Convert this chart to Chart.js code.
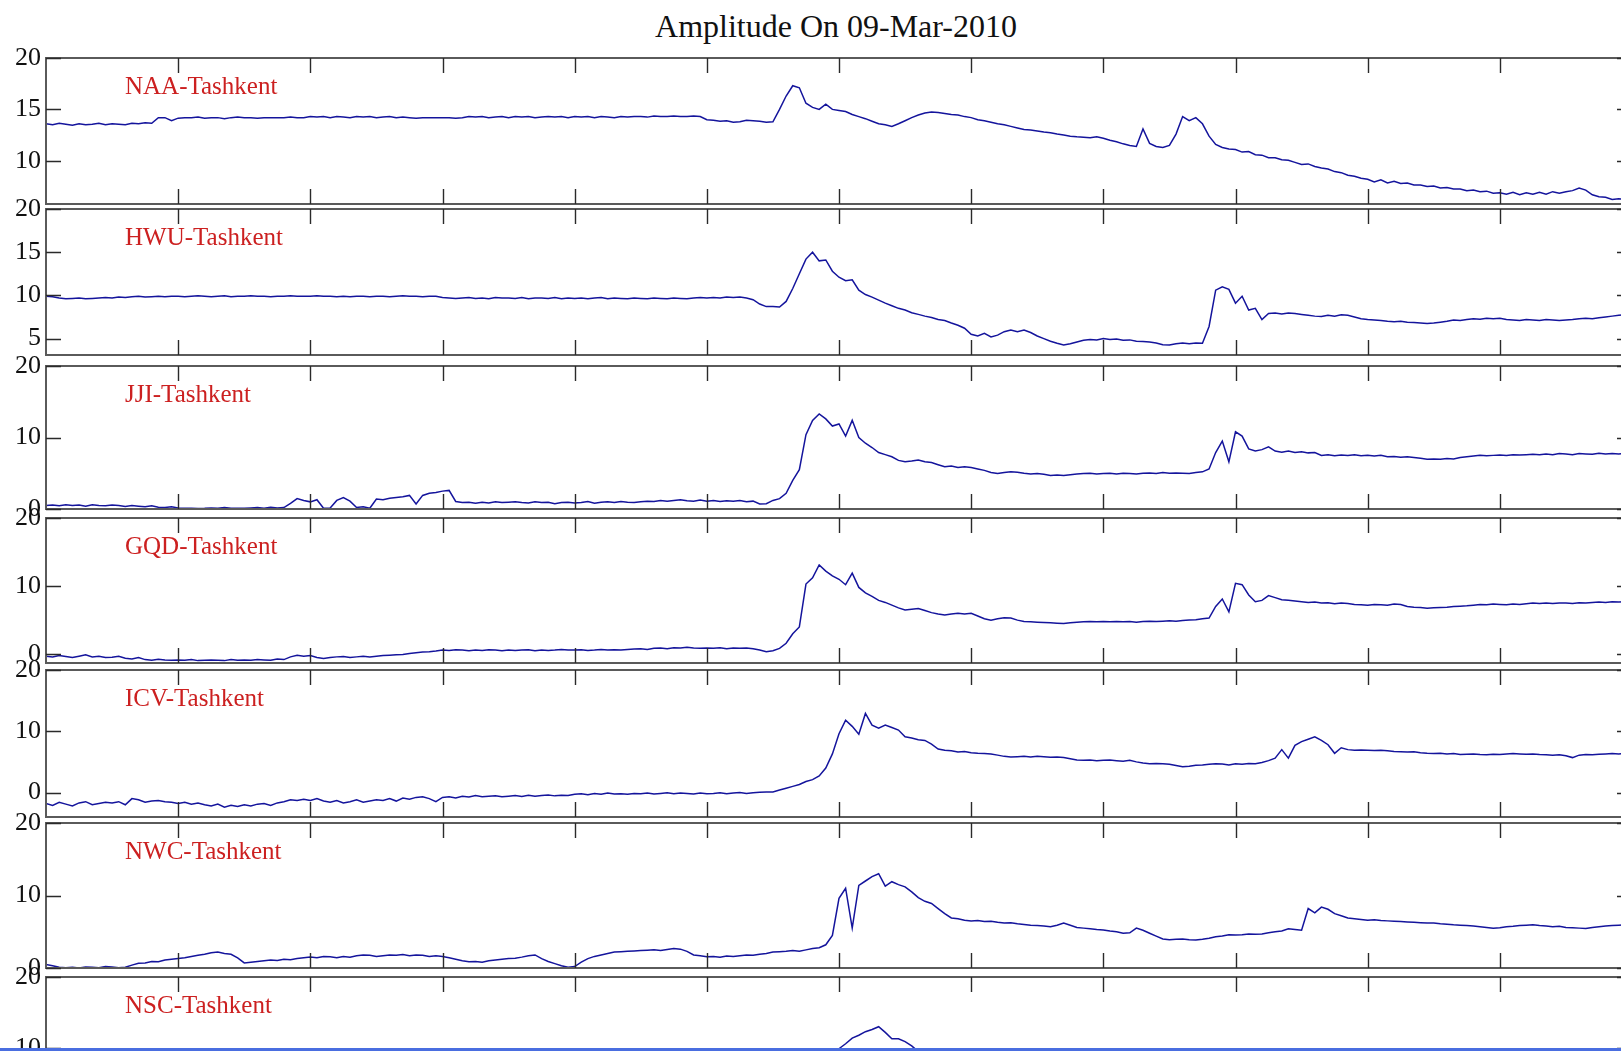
<!DOCTYPE html>
<html lang="en">
<head>
  <meta charset="UTF-8" />
  <title>Amplitude On 09-Mar-2010</title>
  <script src="https://cdn.jsdelivr.net/npm/chart.js"></script>
  <style>
    html, body { margin: 0; padding: 0; background: #fff; overflow: hidden; }
    body { width: 1621px; height: 1051px; position: relative; font-family: "Liberation Serif", serif; }
    #title { position: absolute; left: 0; width: 1672px; top: 8px; line-height: 36px; text-align: center; font-size: 32px; color: #111; }
    canvas { position: absolute; left: 0; }
    #edge { position: absolute; left: 0; top: 1048px; width: 1621px; height: 3px; background: #4a6ee0; }
  </style>
</head>
<body>
  <div id="title">Amplitude On 09-Mar-2010</div>
  <div id="panels"></div>
  <div id="edge"></div>

  <script>
    // time axis: hours UT, one sample every 0.1 h
    const STEP = 0.1;
    const xTickHours = [2, 4, 6, 8, 10, 12, 14, 16, 18, 20, 22];

    const stations = ["NAA-Tashkent", "HWU-Tashkent", "JJI-Tashkent", "GQD-Tashkent", "ICV-Tashkent", "NWC-Tashkent", "NSC-Tashkent"];

    // y tick labels per panel
    const naaTicks = [20, 15, 10];
    const hwuTicks = [20, 15, 10, 5];
    const jjiTicks = [20, 10, 0];
    const gqdTicks = [20, 10, 0];
    const icvTicks = [20, 10, 0];
    const nwcTicks = [20, 10, 0];
    const nscTicks = [20, 10, 0];

    // amplitude (dB), one row per hour
    const naaAmp = [
      13.6, 13.5, 13.65, 13.55, 13.45, 13.6, 13.5, 13.55, 13.65, 13.5,
      13.6, 13.55, 13.5, 13.65, 13.6, 13.7, 13.65, 14.2, 14.2, 13.9,
      14.15, 14.2, 14.2, 14.25, 14.15, 14.2, 14.2, 14.1, 14.2, 14.25,
      14.2, 14.2, 14.15, 14.2, 14.2, 14.2, 14.2, 14.25, 14.2, 14.2,
      14.3, 14.25, 14.3, 14.2, 14.3, 14.25, 14.2, 14.3, 14.25, 14.3,
      14.2, 14.25, 14.3, 14.2, 14.25, 14.2, 14.15, 14.2, 14.2, 14.2,
      14.2, 14.2, 14.15, 14.2, 14.3, 14.25, 14.3, 14.2, 14.25, 14.3,
      14.2, 14.3, 14.25, 14.3, 14.2, 14.25, 14.3, 14.25, 14.3, 14.2,
      14.3, 14.25, 14.3, 14.2, 14.3, 14.25, 14.2, 14.3, 14.25, 14.3,
      14.3, 14.25, 14.35, 14.3, 14.3, 14.35, 14.3, 14.3, 14.35, 14.3,
      14.0, 13.95, 13.85, 13.9, 13.75, 13.8, 13.95, 13.9, 13.85, 13.75,
      13.8, 15.0, 16.3, 17.3, 17.1, 15.6, 15.2, 15.0, 15.5, 15.0,
      14.9, 14.8, 14.5, 14.3, 14.1, 13.85, 13.6, 13.5, 13.35, 13.6,
      13.9, 14.2, 14.45, 14.65, 14.75, 14.7, 14.6, 14.5, 14.45, 14.3,
      14.2, 14.0, 13.9, 13.75, 13.6, 13.5, 13.35, 13.2, 13.05, 13.0,
      12.9, 12.8, 12.72, 12.6, 12.5, 12.4, 12.33, 12.3, 12.25, 12.35,
      12.2, 12.0, 11.85, 11.65, 11.5, 11.4, 13.1, 11.7, 11.4, 11.3,
      11.5, 12.6, 14.3, 13.9, 14.2, 13.6, 12.4, 11.6, 11.3, 11.15,
      11.1, 10.85, 10.9, 10.6, 10.55, 10.3, 10.3, 10.1, 10.05, 9.85,
      9.65, 9.7, 9.45, 9.3, 9.2, 8.95, 8.85, 8.6, 8.5, 8.3,
      8.2, 7.95, 8.15, 7.85, 8.0, 7.8, 7.85, 7.65, 7.65, 7.5,
      7.55, 7.35, 7.4, 7.25, 7.25, 7.1, 7.15, 7.0, 7.05, 6.85,
      6.9, 6.75, 6.95, 6.7, 6.9, 6.75, 6.95, 6.75, 7.0, 6.85,
      7.0, 7.1, 7.35, 7.15, 6.7, 6.5, 6.45, 6.25, 6.3, 6.25,
      6.2
    ];

    const hwuAmp = [
      9.9, 9.85, 9.7, 9.6, 9.65, 9.7, 9.6, 9.65, 9.7, 9.75,
      9.7, 9.8, 9.75, 9.85, 9.9, 9.8, 9.85, 9.9, 9.85, 9.9,
      9.9, 9.85, 9.9, 9.95, 9.9, 9.85, 9.9, 9.95, 9.85, 9.9,
      9.9, 9.95, 9.9, 9.9, 9.85, 9.9, 9.9, 9.95, 9.9, 9.9,
      9.9, 9.95, 9.9, 9.9, 9.85, 9.9, 9.85, 9.9, 9.9, 9.85,
      9.9, 9.9, 9.85, 9.9, 9.95, 9.9, 9.9, 9.85, 9.9, 9.9,
      9.75, 9.7, 9.65, 9.7, 9.75, 9.65, 9.7, 9.6, 9.75, 9.7,
      9.7, 9.65, 9.75, 9.6, 9.7, 9.7, 9.65, 9.75, 9.6, 9.7,
      9.65, 9.7, 9.6, 9.7, 9.75, 9.6, 9.7, 9.65, 9.6, 9.7,
      9.65, 9.6, 9.7, 9.65, 9.6, 9.7, 9.65, 9.6, 9.7, 9.75,
      9.7, 9.75, 9.7, 9.8, 9.75, 9.8, 9.7, 9.5, 9.0, 8.7,
      8.7, 8.65, 9.3, 10.8, 12.5, 14.2, 15.0, 14.0, 14.1, 12.8,
      12.1, 11.7, 11.8, 10.6, 10.1, 9.8, 9.45, 9.1, 8.8, 8.5,
      8.3, 8.0, 7.8, 7.6, 7.45, 7.2, 7.1, 6.8, 6.55, 6.2,
      5.5, 5.3, 5.6, 5.2, 5.4, 5.8, 6.0, 5.8, 6.0, 5.7,
      5.3, 5.0, 4.7, 4.45, 4.25, 4.4, 4.6, 4.8, 4.9, 4.85,
      5.0, 4.9, 4.95, 4.8, 4.85, 4.7, 4.65, 4.6, 4.5, 4.3,
      4.25, 4.4, 4.5, 4.4, 4.5, 4.45, 6.4, 10.6, 11.0, 10.7,
      9.1, 9.9, 8.3, 8.5, 7.2, 7.9, 7.95, 7.85, 7.95, 7.9,
      7.8, 7.7, 7.6, 7.55, 7.7, 7.6, 7.75, 7.7, 7.5, 7.3,
      7.2, 7.15, 7.1, 7.0, 6.95, 7.0, 6.9, 6.85, 6.8, 6.75,
      6.8, 6.9, 7.0, 7.15, 7.1, 7.2, 7.3, 7.25, 7.35, 7.3,
      7.35, 7.2, 7.15, 7.1, 7.2, 7.15, 7.1, 7.2, 7.15, 7.1,
      7.15, 7.2, 7.3, 7.35, 7.3, 7.4, 7.5, 7.6, 7.7, 7.75,
      7.8
    ];

    const jjiAmp = [
      0.5, 0.55, 0.45, 0.6, 0.5, 0.55, 0.4, 0.6, 0.5, 0.45,
      0.55, 0.5, 0.35, 0.5, 0.4, 0.3, 0.45, 0.25, 0.2, 0.3,
      0.15, 0.1, 0.12, 0.08, 0.1, 0.15, 0.1, 0.2, 0.1, 0.12,
      0.1, 0.15, 0.2, 0.1, 0.25, 0.15, 0.2, 0.8, 1.45, 1.2,
      1.0, 1.3, 0.1, 0.15, 1.2, 1.6, 1.1, 0.2, 0.3, 0.1,
      1.4, 1.3, 1.5, 1.6, 1.7, 1.9, 0.7, 1.9, 2.2, 2.3,
      2.5, 2.6, 1.05, 0.9, 0.95, 0.8, 0.95, 0.85, 1.0, 0.9,
      0.95, 1.0, 0.9, 0.85, 1.0, 0.9, 0.95, 0.75, 0.9, 0.95,
      0.85, 0.9, 1.05, 0.8, 0.95, 1.0, 0.9, 1.05, 0.95, 0.9,
      1.0, 1.1, 1.05, 1.2, 1.1, 1.2, 1.3, 1.15, 1.1, 1.25,
      1.1, 1.2, 1.05, 1.15, 1.1, 1.2, 1.0, 1.1, 0.7, 0.75,
      1.2, 1.45, 2.2, 4.0, 5.5, 10.4, 12.4, 13.3, 12.6, 11.6,
      11.9, 10.2, 12.4, 10.0, 9.2, 8.6, 7.9, 7.6, 7.3, 6.8,
      6.6, 6.7, 6.85, 6.6, 6.5, 6.2, 5.9, 6.0, 5.8, 5.9,
      5.8, 5.6, 5.4, 5.1, 4.95, 5.1, 5.2, 5.15, 5.0, 4.9,
      4.95, 4.85, 4.7, 4.75, 4.7, 4.8, 4.9, 4.95, 5.0, 4.9,
      4.95, 5.0, 4.9, 5.0, 4.95, 4.9, 5.0, 5.05, 4.95, 5.1,
      5.0, 5.05, 5.0, 4.95, 5.1, 5.2, 5.6, 7.9, 9.5, 6.6,
      10.8, 10.2, 8.4, 8.1, 8.3, 8.7, 8.1, 7.95, 8.1, 7.9,
      8.0, 7.85, 7.9, 7.5, 7.6, 7.45, 7.55, 7.5, 7.6, 7.45,
      7.5, 7.4, 7.5, 7.3, 7.35, 7.25, 7.3, 7.2, 7.1, 6.95,
      7.0, 6.95, 7.05, 7.0, 7.2, 7.3, 7.4, 7.5, 7.45, 7.5,
      7.55, 7.5, 7.6, 7.55, 7.6, 7.65, 7.6, 7.7, 7.6, 7.75,
      7.7, 7.6, 7.75, 7.7, 7.65, 7.8, 7.7, 7.75, 7.7, 7.8,
      7.75
    ];

    const gqdAmp = [
      -0.3, -0.4, -0.2, -0.35, -0.5, -0.3, -0.1, -0.4, -0.3, -0.5,
      -0.45, -0.3, -0.6, -0.7, -0.5, -0.8, -0.9, -0.75, -0.85, -0.9,
      -0.85, -0.9, -0.8, -0.95, -0.9, -0.85, -0.9, -0.95, -0.8, -0.9,
      -0.85, -0.9, -0.8, -0.85, -0.9, -0.7, -0.8, -0.4, -0.15, -0.3,
      -0.2, -0.5, -0.62, -0.5, -0.4, -0.35, -0.5, -0.4, -0.3, -0.4,
      -0.3, -0.2, -0.15, -0.1, -0.05, 0.1, 0.2, 0.3, 0.35, 0.45,
      0.6, 0.55, 0.65, 0.6, 0.5, 0.6, 0.55, 0.65, 0.6, 0.5,
      0.6, 0.55, 0.6, 0.65, 0.5, 0.6, 0.55, 0.6, 0.7, 0.6,
      0.6, 0.65, 0.55, 0.6, 0.7, 0.6, 0.65, 0.6, 0.7, 0.75,
      0.8, 0.7, 0.85, 0.9, 0.8, 0.95, 0.9, 1.0, 0.9, 0.85,
      0.9, 0.85, 0.95, 0.8, 0.9, 0.85, 0.9, 0.8, 0.6, 0.35,
      0.5, 0.85, 1.6, 3.0, 4.0, 10.3, 11.2, 13.1, 12.2, 11.5,
      11.0, 10.2, 11.9, 9.8, 9.0, 8.5, 7.9, 7.6, 7.2, 6.8,
      6.5, 6.6, 6.7, 6.4, 6.1, 5.9, 5.75, 5.9, 6.0, 5.9,
      6.0, 5.6, 5.2, 5.0, 5.2, 5.35, 5.3, 5.0, 4.8, 4.75,
      4.7, 4.65, 4.6, 4.55, 4.5, 4.6, 4.7, 4.75, 4.8, 4.75,
      4.8, 4.75, 4.8, 4.75, 4.8, 4.7, 4.8, 4.85, 4.8, 4.85,
      4.9, 4.85, 4.95, 5.0, 5.05, 5.2, 5.3, 7.0, 8.1, 6.2,
      10.4, 10.2, 8.7, 7.7, 7.9, 8.6, 8.3, 8.0, 7.9, 7.8,
      7.7, 7.6, 7.65, 7.5, 7.55, 7.4, 7.5, 7.45, 7.3, 7.25,
      7.2, 7.3, 7.25, 7.2, 7.35, 7.3, 7.0, 6.9, 6.85, 6.75,
      6.8, 6.85, 6.9, 7.0, 7.05, 7.1, 7.2, 7.3, 7.25, 7.35,
      7.3, 7.25, 7.35, 7.3, 7.4, 7.5, 7.45, 7.5, 7.45, 7.5,
      7.5, 7.45, 7.55, 7.5, 7.6, 7.65, 7.6, 7.7, 7.65, 7.7,
      7.7
    ];

    const icvAmp = [
      -1.8, -2.1, -1.6, -1.9, -2.2, -1.7, -1.5, -2.0, -1.8, -1.6,
      -1.7, -1.5, -2.0, -1.0, -1.2, -1.6, -1.4, -1.3, -1.5, -1.6,
      -1.8, -1.6, -1.9, -1.7, -2.0, -2.2, -1.9, -2.4, -2.1, -2.3,
      -2.0, -2.2, -1.9, -1.8, -2.1, -1.7, -1.5, -1.2, -1.3, -1.1,
      -1.3, -1.0, -1.4, -1.6, -1.3, -1.7, -1.5, -1.2, -1.6, -1.4,
      -1.2, -1.3, -1.0, -1.4, -0.9, -1.1, -0.8, -0.7, -1.0, -1.5,
      -0.8, -0.7, -0.9, -0.6, -0.75, -0.5, -0.7, -0.6, -0.55, -0.7,
      -0.6, -0.5, -0.65, -0.45, -0.6, -0.5, -0.4, -0.55, -0.45, -0.5,
      -0.3, -0.2, -0.35, -0.15, -0.3, -0.1, -0.25, -0.2, -0.3, -0.15,
      -0.2, -0.1, -0.25, -0.15, -0.05, -0.2, -0.1, -0.15, -0.25, -0.1,
      -0.2, -0.15, -0.05, -0.2, -0.1, 0.0, -0.15, -0.05, 0.05, 0.1,
      0.1, 0.4, 0.7, 1.0, 1.3, 1.8, 2.1, 2.7, 4.0, 6.3,
      9.6, 11.8, 10.8, 9.5, 12.9, 11.0, 10.5, 11.0, 10.6, 10.2,
      9.1, 8.9, 8.6, 8.5, 7.9, 7.1, 6.9, 6.8, 6.6, 6.7,
      6.5, 6.4, 6.35, 6.3, 6.1, 5.9, 5.8, 5.85, 5.9, 5.8,
      5.9, 5.85, 5.75, 5.8, 5.7, 5.5, 5.3, 5.25, 5.3, 5.2,
      5.25, 5.3, 5.2, 5.1, 5.25, 5.0, 4.8, 4.7, 4.75, 4.7,
      4.6, 4.4, 4.2, 4.3, 4.45, 4.5, 4.6, 4.7, 4.65, 4.5,
      4.7, 4.6, 4.75, 4.7, 4.9, 5.2, 5.6, 7.0, 5.6, 7.7,
      8.3, 8.7, 9.1, 8.5, 7.8, 6.4, 7.3, 7.0, 6.9, 6.95,
      6.9, 6.85, 6.9, 6.8, 6.7, 6.65, 6.6, 6.65, 6.5, 6.4,
      6.35, 6.4, 6.3, 6.35, 6.2, 6.25, 6.3, 6.2, 6.15, 6.25,
      6.2, 6.3, 6.35, 6.3, 6.25, 6.3, 6.2, 6.15, 6.1, 6.15,
      6.0, 5.7, 6.1, 6.2, 6.15, 6.25, 6.3, 6.35, 6.3, 6.4,
      6.35
    ];

    const nwcAmp = [
      0.5, 0.3, 0.1, 0.05, 0.1, 0.0, 0.15, 0.1, 0.05, 0.2,
      0.15, 0.05, 0.1, 0.4, 0.65, 0.7, 0.9, 0.85, 1.1, 1.2,
      1.3, 1.4, 1.6, 1.75, 1.9, 2.1, 2.2, 2.0, 1.9, 1.4,
      0.7, 0.8, 0.9, 1.0, 1.1, 1.05, 1.2, 1.15, 1.3, 1.4,
      1.5, 1.4, 1.6, 1.55, 1.4, 1.6, 1.5, 1.7, 1.8, 1.75,
      1.6, 1.7, 1.8, 1.75, 1.85, 1.7, 1.8, 1.75, 1.6, 1.7,
      1.6, 1.4, 1.2, 1.0, 0.85, 0.9, 0.8, 1.0, 1.1, 1.2,
      1.3, 1.35, 1.5, 1.7, 1.8, 1.3, 0.9, 0.6, 0.3, 0.1,
      0.2, 0.8, 1.3, 1.6, 1.8, 2.0, 2.2, 2.25, 2.3, 2.35,
      2.4, 2.45, 2.5, 2.4, 2.55, 2.7, 2.6, 2.3, 1.8, 1.7,
      1.55, 1.6, 1.5, 1.65, 1.6, 1.7, 1.8, 1.75, 1.9, 2.0,
      2.2, 2.25, 2.3, 2.4, 2.3, 2.5, 2.7, 2.8, 3.2, 4.5,
      9.6, 11.0, 5.5, 11.4, 12.0, 12.6, 13.0, 11.3, 11.9, 11.5,
      11.2, 10.5, 9.7, 9.2, 8.9, 8.2, 7.5, 6.9, 6.8, 6.6,
      6.5, 6.55, 6.4, 6.45, 6.3, 6.2, 6.25, 6.1, 6.0, 5.9,
      5.85, 5.8, 5.7, 5.9, 6.2, 5.9, 5.6, 5.5, 5.4, 5.3,
      5.25, 5.1, 5.0, 4.8, 4.85, 5.5, 5.2, 4.8, 4.4, 4.0,
      3.9, 3.95, 4.0, 3.9, 3.85, 3.95, 4.1, 4.3, 4.4, 4.6,
      4.55, 4.6, 4.7, 4.65, 4.7, 4.85, 5.0, 5.1, 5.4, 5.3,
      5.2, 8.2, 7.6, 8.4, 8.1, 7.5, 7.2, 6.9, 6.8, 6.7,
      6.6, 6.65, 6.55, 6.5, 6.45, 6.4, 6.35, 6.3, 6.25, 6.2,
      6.2, 6.1, 6.05, 5.95, 5.9, 5.85, 5.8, 5.7, 5.6, 5.5,
      5.55, 5.7, 5.75, 5.85, 5.9, 5.95, 5.85, 5.8, 5.7, 5.75,
      5.6, 5.55, 5.5, 5.45, 5.6, 5.7, 5.8, 5.85, 5.9, 5.95,
      5.9
    ];

    // only the crest of NSC is inside the picture
    const nscStart = 11.8;
    const nscAmp = [7.0, 8.5, 9.9, 10.6, 11.4, 11.8, 12.3, 12.6, 13.0, 12.2, 11.3, 11.3, 10.9, 10.3, 9.5, 8.8, 8.3];

    const series = [
      { amp: naaAmp, start: 0, ticks: naaTicks, min: 5.8, max: 20, top: 58, height: 146 },
      { amp: hwuAmp, start: 0, ticks: hwuTicks, min: 3.1, max: 20, top: 209, height: 146 },
      { amp: jjiAmp, start: 0, ticks: jjiTicks, min: 0, max: 20, top: 366, height: 143 },
      { amp: gqdAmp, start: 0, ticks: gqdTicks, min: -1.3, max: 20, top: 518, height: 145 },
      { amp: icvAmp, start: 0, ticks: icvTicks, min: -4, max: 20, top: 670, height: 147 },
      { amp: nwcAmp, start: 0, ticks: nwcTicks, min: 0, max: 20, top: 823, height: 145 },
      { amp: nscAmp, start: nscStart, ticks: nscTicks, min: 0, max: 20, top: 977, height: 142 }
    ];

    const CANVAS_W = 1645;
    const PLOT_RIGHT = 1632;
    const PAD = 22;
    const TICK = 15;

    const frame = {
      id: "frame",
      afterDraw(chart, args, opts) {
        const { ctx, chartArea: a, scales } = chart;
        const x = scales.x, y = scales.y;
        ctx.save();
        ctx.strokeStyle = "#5a5a5a";
        ctx.lineWidth = 2;
        ctx.strokeRect(a.left, a.top, a.right - a.left, a.bottom - a.top);

        ctx.strokeStyle = "#2a2a2a";
        ctx.lineWidth = 1.4;
        ctx.beginPath();
        xTickHours.forEach(h => {
          const px = Math.round(x.getPixelForValue(h)) + 0.5;
          ctx.moveTo(px, a.top);
          ctx.lineTo(px, a.top + TICK);
          ctx.moveTo(px, a.bottom);
          ctx.lineTo(px, a.bottom - TICK);
        });
        opts.ticks.forEach(v => {
          const py = Math.round(y.getPixelForValue(v)) + 0.5;
          ctx.moveTo(a.left, py);
          ctx.lineTo(a.left + TICK, py);
          ctx.moveTo(a.right, py);
          ctx.lineTo(a.right - TICK, py);
        });
        ctx.stroke();

        ctx.fillStyle = "#cc2020";
        ctx.font = '25px "Liberation Serif"';
        ctx.textBaseline = "alphabetic";
        ctx.fillText(opts.label, 125, a.top + 36);
        ctx.restore();
      }
    };

    const holder = document.getElementById("panels");

    series.forEach((s, i) => {
      const cv = document.createElement("canvas");
      cv.width = CANVAS_W;
      cv.height = s.height + PAD * 2;
      cv.style.top = (s.top - PAD) + "px";
      holder.appendChild(cv);

      const points = s.amp.map((v, k) => ({ x: s.start + k * STEP, y: v }));

      new Chart(cv.getContext("2d"), {
        type: "line",
        data: {
          datasets: [{
            data: points,
            borderColor: "#14149c",
            borderWidth: 1.5,
            pointRadius: 0,
            tension: 0,
            fill: false
          }]
        },
        options: {
          responsive: false,
          animation: false,
          events: [],
          layout: { padding: { top: PAD, bottom: PAD, left: 0, right: CANVAS_W - PLOT_RIGHT } },
          plugins: {
            legend: { display: false },
            tooltip: { enabled: false },
            frame: { label: stations[i], ticks: s.ticks }
          },
          scales: {
            x: { type: "linear", min: 0, max: 24, display: false },
            y: {
              type: "linear",
              min: s.min,
              max: s.max,
              position: "left",
              afterFit: (scale) => { scale.width = 46; },
              afterBuildTicks: (scale) => { scale.ticks = s.ticks.map(v => ({ value: v })); },
              grid: { display: false, drawTicks: false },
              border: { display: false },
              ticks: {
                padding: 5,
                color: "#111",
                font: { family: "Liberation Serif", size: 26 },
                autoSkip: false
              }
            }
          }
        },
        plugins: [frame]
      });
    });
  </script>
</body>
</html>
